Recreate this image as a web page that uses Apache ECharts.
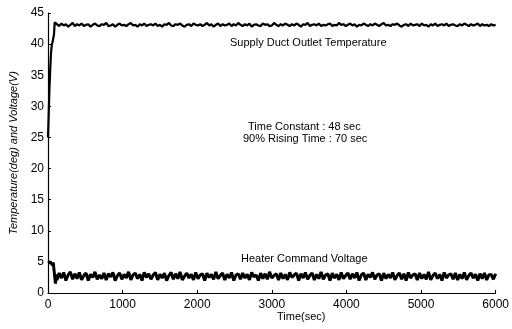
<!DOCTYPE html>
<html><head><meta charset="utf-8">
<script src="https://cdn.jsdelivr.net/npm/echarts@6/dist/echarts.min.js"></script>
<style>html,body{margin:0;padding:0;background:#fff}#c{width:512px;height:329px}</style>
</head><body><div id="c"></div>
<script>
// Start-up transient (sampled every 10 s, t = 0..110 s)
const riseTimes = [0,10,20,30,40,50,60,70,80,90,100,110];
const riseTemp  = [25,29,33,36,38.5,39.8,40.3,40.5,41.5,43.5,43.8,43.3];
const riseVolt  = [4.8,4.9,4.6,5.0,4.7,4.8,4.5,4.9,4.6,4.7,1.5,3.0];
// Steady-state samples, every 30 s from t = 120 s to 6000 s
const steadyStart = 120, steadyStep = 30;
const steadyTemp = [
43.2,42.9,43.3,43.0,43.2,42.8,43.1,43.4,42.9,43.2,
43.0,43.3,42.9,43.1,43.2,42.8,43.1,43.3,43.0,42.9,
43.2,43.1,43.4,42.9,43.0,43.2,42.8,43.1,43.3,43.0,
43.1,42.9,43.2,43.4,43.0,43.1,42.8,43.2,43.0,43.3,
42.9,43.1,43.2,43.0,43.3,42.9,43.1,42.8,43.2,43.1,
43.4,43.0,42.9,43.2,43.1,43.3,43.0,42.8,43.1,43.2,
42.9,43.3,43.1,43.0,43.2,42.9,43.1,43.4,43.0,43.2,
42.8,43.1,43.3,42.9,43.2,43.0,43.1,43.3,42.9,43.2,
43.0,43.4,43.1,42.9,43.2,43.0,43.3,42.8,43.1,43.2,
43.0,42.9,43.3,43.1,43.2,42.9,43.0,43.4,43.1,42.9,
43.2,43.0,43.3,43.1,42.9,43.2,43.0,43.3,43.1,42.8,
43.2,43.1,43.4,42.9,43.1,43.2,43.0,43.3,42.9,43.1,
43.0,43.2,43.3,42.9,43.1,43.0,43.4,43.1,43.2,42.9,
43.1,43.3,43.0,43.2,42.8,43.1,43.0,43.3,43.1,42.9,
43.2,43.0,43.3,43.1,42.9,43.2,43.4,43.0,43.1,42.9,
43.2,43.1,43.3,43.0,42.8,43.1,43.2,42.9,43.3,43.0,
43.1,43.2,42.9,43.3,43.0,43.1,42.8,43.2,43.0,43.3,
42.9,43.1,43.2,43.0,43.3,42.9,43.1,43.2,43.0,42.9,
43.2,43.0,43.3,43.1,42.9,43.2,43.0,43.1,43.3,42.9,
43.2,43.0,43.1,42.9,43.2,43.0,43.1];
const steadyVolt = [
2.1,3.2,2.4,3.3,2.0,2.9,3.4,2.2,3.1,2.3,
3.3,2.1,2.8,3.2,2.0,3.0,2.5,3.4,2.2,2.9,
2.3,3.2,2.1,3.1,2.6,3.3,2.0,2.8,3.2,2.2,
3.0,2.4,3.4,2.1,2.9,3.2,2.3,3.0,2.0,3.3,
2.5,3.1,2.2,2.9,3.3,2.1,3.0,2.4,3.2,2.0,
2.8,3.3,2.2,3.1,2.3,3.4,2.1,2.7,3.2,2.4,
3.0,2.1,3.3,2.3,2.9,3.1,2.0,3.2,2.5,3.0,
2.2,3.4,2.3,2.8,3.2,2.1,3.0,2.4,3.3,2.0,
2.9,3.1,2.2,3.2,2.4,3.0,2.1,3.3,2.6,2.9,
2.0,3.2,2.3,3.1,2.2,3.4,2.4,2.8,3.1,2.1,
3.2,2.3,3.0,2.1,3.3,2.5,2.9,3.2,2.0,3.1,
2.4,3.3,2.2,2.8,3.2,2.1,3.0,2.3,3.4,2.2,
2.9,3.1,2.0,3.2,2.4,3.0,2.1,3.3,2.3,2.8,
3.2,2.2,3.1,2.4,3.3,2.0,2.9,3.2,2.1,3.0,
2.5,3.3,2.2,2.9,3.1,2.0,3.2,2.3,3.0,2.4,
3.3,2.1,2.8,3.2,2.2,3.1,2.0,3.3,2.4,2.9,
3.1,2.1,3.2,2.3,3.0,2.2,3.4,2.1,2.8,3.2,
2.3,3.0,2.0,3.3,2.4,2.9,3.1,2.2,3.2,2.1,
3.0,2.3,3.3,2.1,2.8,3.2,2.4,3.0,2.0,3.1,
2.3,3.2,2.1,2.9,3.0,2.2,3.1];
const xTicks = [0,1000,2000,3000,4000,5000,6000];
const yTicks = [0,5,10,15,20,25,30,35,40,45];

function build(rise, steady){
  const out = riseTimes.map((t,i)=>[t, rise[i]]);
  steady.forEach((v,i)=>out.push([steadyStart + i*steadyStep, v]));
  return out;
}
const font = '"Liberation Sans", Arial, sans-serif';
const chart = echarts.init(document.getElementById('c'), null, {renderer:'canvas'});
chart.setOption({
  animation:false,
  backgroundColor:'#fff',
  grid:{left:48,right:14,top:13,bottom:36},
  xAxis:{type:'value',min:xTicks[0],max:xTicks[xTicks.length-1],interval:1000,
    axisLine:{lineStyle:{color:'#000',width:1.2}},
    axisTick:{inside:true,length:3,lineStyle:{color:'#000'}},
    axisLabel:{color:'#000',fontFamily:font,fontSize:12,margin:6,formatter:v=>String(v)},
    splitLine:{show:false}},
  yAxis:{type:'value',min:yTicks[0],max:yTicks[yTicks.length-1],interval:5,
    name:'Temperature(deg) and Voltage(V)',nameLocation:'middle',nameGap:28,
    nameTextStyle:{color:'#000',fontFamily:font,fontSize:11,fontStyle:'italic'},
    axisLine:{show:true,lineStyle:{color:'#000',width:1.2}},
    axisTick:{show:true,inside:true,length:3,lineStyle:{color:'#000'}},
    axisLabel:{color:'#000',fontFamily:font,fontSize:12,margin:4},
    splitLine:{show:false}},
  series:[
    {type:'line',data:build(riseTemp,steadyTemp),showSymbol:false,sampling:null,
     lineStyle:{color:'#000',width:2.2},z:3},
    {type:'line',data:build(riseVolt,steadyVolt),showSymbol:false,sampling:null,
     lineStyle:{color:'#000',width:3},z:3}
  ],
  graphic:[
    {type:'text',left:230,top:37,style:{text:'Supply Duct Outlet Temperature',font:'11px '+font,fill:'#000'}},
    {type:'text',left:248,top:121,style:{text:'Time Constant : 48 sec',font:'11px '+font,fill:'#000'}},
    {type:'text',left:243,top:133,style:{text:'90% Rising Time : 70 sec',font:'11px '+font,fill:'#000'}},
    {type:'text',left:241,top:253,style:{text:'Heater Command Voltage',font:'11px '+font,fill:'#000'}},
    {type:'text',left:277,top:311,style:{text:'Time(sec)',font:'11px '+font,fill:'#000'}}
  ]
});
</script></body></html>
